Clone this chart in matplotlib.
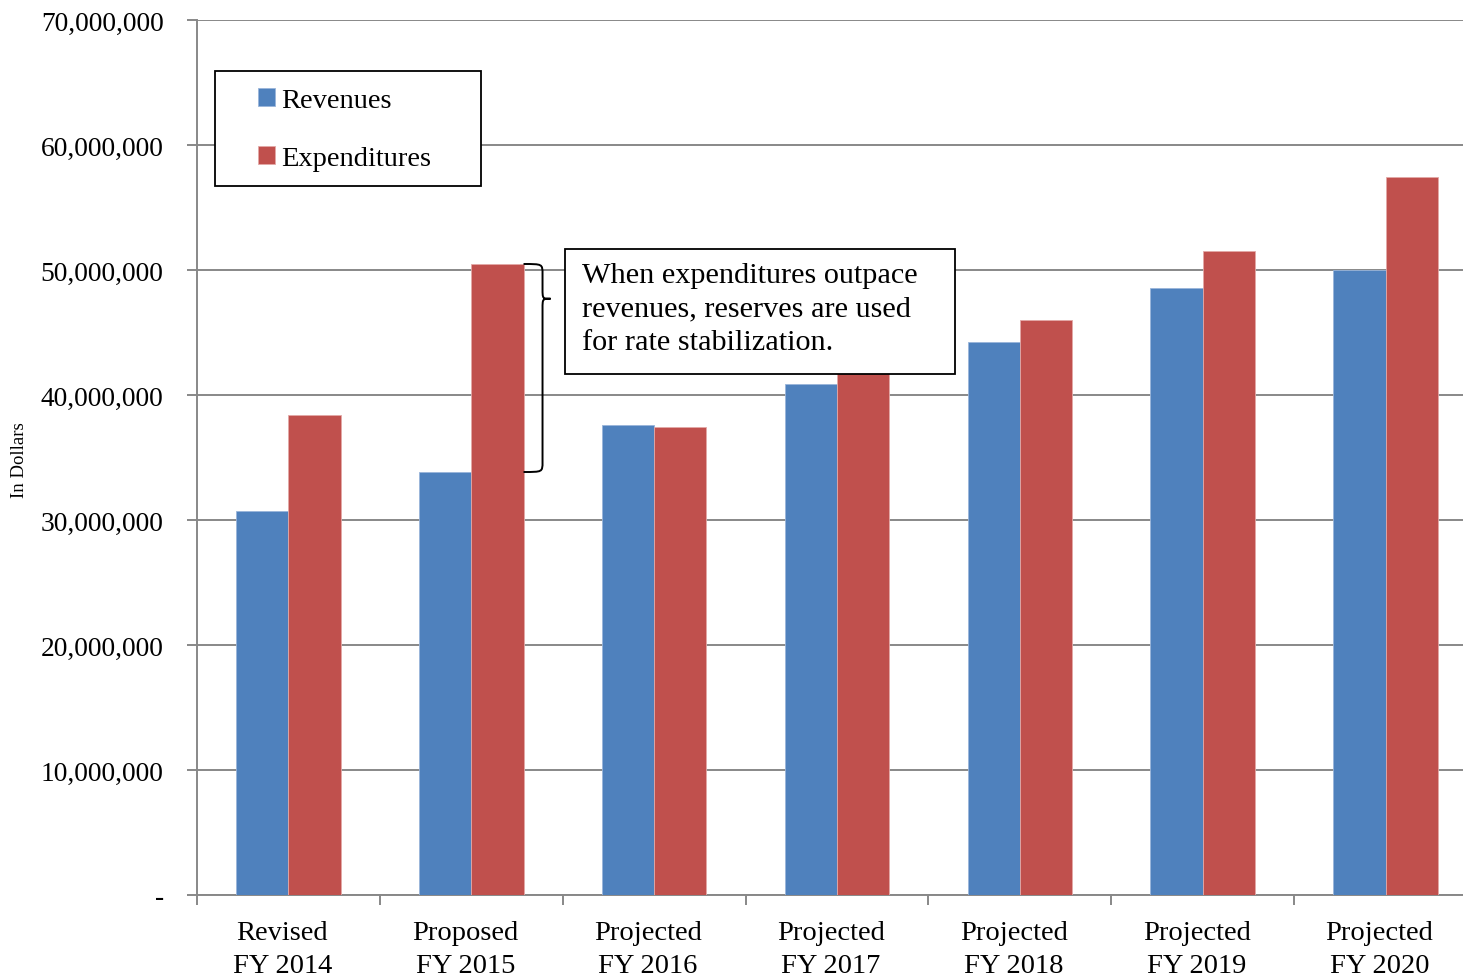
import matplotlib
matplotlib.use("Agg")
import matplotlib.pyplot as plt
import numpy as np
from matplotlib.patches import Rectangle, PathPatch
from matplotlib.path import Path

categories = ["Revised\nFY 2014", "Proposed\nFY 2015", "Projected\nFY 2016", "Projected\nFY 2017",
              "Projected\nFY 2018", "Projected\nFY 2019", "Projected\nFY 2020"]
revenues = [30.72e6, 33.84e6, 37.6e6, 40.88e6, 44.24e6, 48.55e6, 50.0e6]
expenditures = [38.4e6, 50.48e6, 37.44e6, 41.9e6, 46.0e6, 51.52e6, 57.44e6]
yticks = [0, 10e6, 20e6, 30e6, 40e6, 50e6, 60e6, 70e6]
ytick_labels = ["-", "10,000,000", "20,000,000", "30,000,000", "40,000,000",
                "50,000,000", "60,000,000", "70,000,000"]
note = "When expenditures outpace\nrevenues, reserves are used\nfor rate stabilization."

FONT = "Liberation Serif"
plt.rcParams['font.family'] = [FONT, 'DejaVu Serif']

W, H = 1463, 978
fig = plt.figure(figsize=(W / 100, H / 100), dpi=100)

def fx(x):
    return x / W

def fy(y):
    return 1 - y / H

ax = fig.add_axes([fx(197), fy(896), 1280 / W, 875 / H])
BLUE = "#4F81BD"
RED = "#C0504D"
GRAY = "#888888"

x = np.arange(len(categories))
bw = 0.2857
ax.bar(x - bw / 2, revenues, bw, color=BLUE, edgecolor="#9AB5DA", linewidth=0.6, zorder=3, label="Revenues")
ax.bar(x + bw / 2, expenditures, bw, color=RED, edgecolor="#E3A9A7", linewidth=0.6, zorder=3, label="Expenditures")

ax.set_xlim(-0.5, len(categories) - 0.5)
ax.set_ylim(0, 70e6)
ax.set_yticks(yticks)
ax.set_yticklabels(ytick_labels, fontsize=19.8)
# category labels sit slightly left of the group centre, as in the original
ax.set_xticks(x - 6 / 182.86)
ax.set_xticklabels(categories, fontsize=20.5, linespacing=1.42)
ax.set_xticks(np.arange(-0.5, len(categories)), minor=True)
ax.tick_params(axis='x', which='major', length=0, pad=18)
ax.tick_params(axis='x', which='minor', length=7, width=1.4, color=GRAY, direction='out')
ax.tick_params(axis='y', length=7, width=1.4, color=GRAY, direction='out', pad=17)

ax.grid(axis='y', color=GRAY, linewidth=1.4, zorder=0)
ax.set_axisbelow(True)
for s in ['top', 'right']:
    ax.spines[s].set_visible(False)
for s in ['left', 'bottom']:
    ax.spines[s].set_color(GRAY)
    ax.spines[s].set_linewidth(1.4)

fig.text(fx(19), fy(460), "In Dollars", rotation=90, ha='center', va='center', fontsize=13.5)

# Legend with custom frame
ax.add_patch(Rectangle((fx(215), fy(187)), (481 - 215) / W, (187 - 72) / H,
                       transform=fig.transFigure, facecolor='white', edgecolor='black',
                       linewidth=1.3, zorder=5, clip_on=False))
leg = ax.legend(loc='upper left', bbox_to_anchor=(fx(258), fy(89)), bbox_transform=fig.transFigure,
                frameon=False, fontsize=20.5, handlelength=0.58, handleheight=0.58,
                handletextpad=0.25, labelspacing=1.17, borderpad=0, borderaxespad=0)
leg.set_zorder(6)

# Annotation box
ax.add_patch(Rectangle((fx(565), fy(375)), (955 - 565) / W, (375 - 250) / H,
                       transform=fig.transFigure, facecolor='white', edgecolor='black',
                       linewidth=1.3, zorder=5, clip_on=False))
ax.text(fx(582), fy(263), note, transform=fig.transFigure, ha='left', va='top',
        fontsize=21.8, linespacing=1.38, zorder=6)

# Brace between FY2015 revenues and expenditures
dxp = 1 / 182.86
dyp = 70e6 / 875
xe = 1 + bw
ytop = expenditures[1]
ybot = revenues[1]
ytip = ytop + (ybot - ytop) * 0.167
xm = xe + 19 * dxp
xt = xe + 27 * dxp
verts = [
    (xe, ytop),
    (xm, ytop), (xm, ytop), (xm, ytop - 10 * dyp),
    (xm, ytip + 10 * dyp),
    (xm, ytip), (xm, ytip), (xt, ytip),
    (xm, ytip), (xm, ytip), (xm, ytip - 10 * dyp),
    (xm, ybot + 10 * dyp),
    (xm, ybot), (xm, ybot), (xe, ybot),
]
codes = [Path.MOVETO,
         Path.CURVE4, Path.CURVE4, Path.CURVE4,
         Path.LINETO,
         Path.CURVE4, Path.CURVE4, Path.CURVE4,
         Path.CURVE4, Path.CURVE4, Path.CURVE4,
         Path.LINETO,
         Path.CURVE4, Path.CURVE4, Path.CURVE4]
ax.add_patch(PathPatch(Path(verts, codes), facecolor='none', edgecolor='black',
                       linewidth=1.4, zorder=4, clip_on=False))

fig.savefig("out.png", dpi=100)
